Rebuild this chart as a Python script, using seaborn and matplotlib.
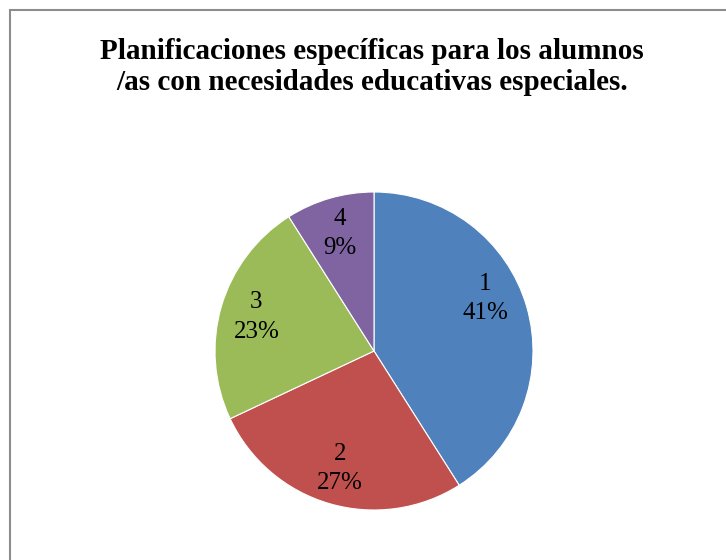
import seaborn as sns
import matplotlib.pyplot as plt
from matplotlib.patches import Rectangle

categories = ['1', '2', '3', '4']
values = [41, 27, 23, 9]
colors = ['#4F81BD', '#C0504D', '#9BBB59', '#8064A2']
title = 'Planificaciones específicas para los alumnos\n/as con necesidades educativas especiales.'

sns.set_theme(style='white')
plt.rcParams['font.family'] = ['Liberation Serif', 'DejaVu Serif']

W, H = 726, 560
fig = plt.figure(figsize=(W / 100, H / 100), dpi=100)

# chart frame (right/bottom edges fall outside the picture)
fig.patches.append(Rectangle((10 / W, -0.1), 1.2, 1 - 10 / H + 0.1,
                             transform=fig.transFigure, fill=False,
                             edgecolor='#8c8c8c', linewidth=1.5))

cx, cy, r = 374, 351, 159
ax = fig.add_axes([(cx - r) / W, (H - cy - r) / H, 2 * r / W, 2 * r / H])

labels_iter = iter(categories)
def fmt(pct):
    return f'{next(labels_iter)}\n{pct:.0f}%'

wedges, texts, autotexts = ax.pie(values, colors=colors, startangle=90, counterclock=False,
                                  autopct=fmt, pctdistance=0.77,
                                  wedgeprops=dict(edgecolor='white', linewidth=0.8),
                                  textprops=dict(fontsize=18, color='black', linespacing=1.45))
# excel "best fit" puts the big slice's label a bit higher
autotexts[0].set_position((0.70, 0.33))
ax.set_xlim(-1, 1)
ax.set_ylim(-1, 1)
ax.set_aspect('equal')
ax.axis('off')

fig.text(372 / W, 1 - 67 / H, title, ha='center', va='center', fontsize=21,
         fontweight='bold', linespacing=1.2, color='black')

fig.savefig('out.png', dpi=100)
